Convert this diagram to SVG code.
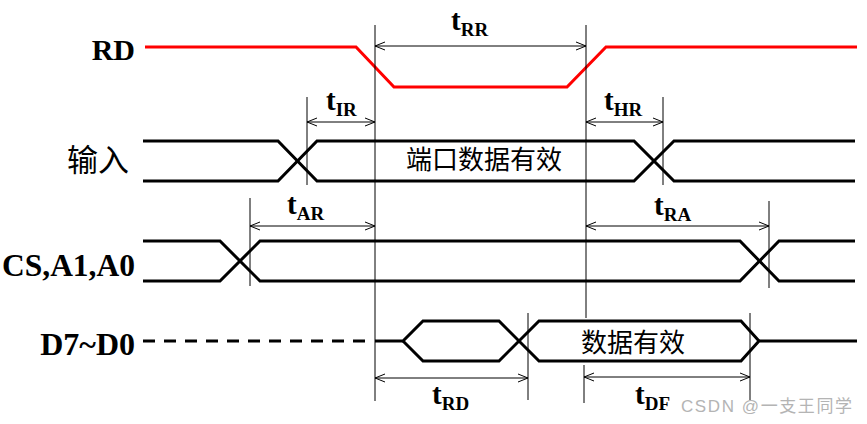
<svg xmlns="http://www.w3.org/2000/svg" width="867" height="424" viewBox="0 0 867 424">
  <style>
    .sig { fill: none; stroke: #000; stroke-width: 3; stroke-linejoin: miter; }
    .rd { fill: none; stroke: #ff0000; stroke-width: 3; }
    .dash { fill: none; stroke: #000; stroke-width: 3; stroke-dasharray: 12 9; }
    .guide { fill: none; stroke: #000; stroke-width: 1; }
    .dim { fill: none; stroke: #000; stroke-width: 1; marker-start: url(#arr); marker-end: url(#arr); }
    .lbl { font-family: "Liberation Serif", "Times New Roman", serif; font-weight: bold; font-size: 30px; fill: #000; }
    .cjk { font-family: "Liberation Serif", "Noto Sans CJK SC", serif; font-size: 26px; fill: #000; }
    .t { font-family: "Liberation Serif", "Times New Roman", serif; font-weight: bold; font-size: 29px; fill: #000; }
    .sub { font-size: 19px; }
    .wm { font-family: "Liberation Sans", "Noto Sans CJK SC", sans-serif; font-size: 17px; fill: #b4b4b4; }
  </style>
  <defs>
    <!-- open V head, tip at the path end -->
    <marker id="arr" viewBox="-11 -5 12 10" refX="0" refY="0" markerWidth="12" markerHeight="10" markerUnits="userSpaceOnUse" orient="auto-start-reverse">
      <path d="M-10,-4 L0,0 L-10,4" fill="none" stroke="#000" stroke-width="1"/>
    </marker>
  </defs>

  <!-- signal names -->
  <g id="label-rd"><text class="lbl" x="135" y="60" text-anchor="end">RD</text></g>
  <g id="label-in"><text class="cjk" x="129" y="171" text-anchor="end" style="font-size:31px">输入</text></g>
  <g id="label-cs"><text class="lbl" x="135" y="276" text-anchor="end" style="font-size:31.5px">CS,A1,A0</text></g>
  <g id="label-d"><text class="lbl" x="135" y="355" text-anchor="end" style="font-size:32px">D7~D0</text></g>

  <!-- RD waveform -->
  <g id="wave-rd">
    <path class="rd" d="M145,47 H356 L394,87 H567 L606,47 H857"/>
  </g>

  <!-- input port waveform -->
  <g id="wave-in">
    <path class="sig" d="M143,141 H278 L317,181 H634 L674,141 H855"/>
    <path class="sig" d="M143,181 H278 L317,141 H634 L674,181 H855"/>
    <text class="cjk" x="484" y="169" text-anchor="middle">端口数据有效</text>
  </g>

  <!-- address / chip select waveform -->
  <g id="wave-cs">
    <path class="sig" d="M143,241 H220 L260,281 H740 L779,241 H855"/>
    <path class="sig" d="M143,281 H220 L260,241 H740 L779,281 H855"/>
  </g>

  <!-- data bus waveform -->
  <g id="wave-d">
    <path class="dash" d="M143,341 H366"/>
    <path class="sig" d="M375,341 H403 L423,321 H499 L539,361 H741 L759,341 H857"/>
    <path class="sig" d="M403,341 L423,361 H499 L539,321 H741 L759,341"/>
    <text class="cjk" x="633" y="352" text-anchor="middle">数据有效</text>
  </g>

  <!-- timing guides and dimension arrows -->
  <g id="connectors">
    <path class="guide" d="M375,25 V401 M586,25 V318 M307,97 V185 M663,97 V185 M250,198 V286 M769,201 V288 M528,313 V400 M584,365 V403 M750,313 V400"/>
    <path class="dim" d="M375,46 H586"/>
    <path class="dim" d="M307,122 H375"/>
    <path class="dim" d="M586,122 H663"/>
    <path class="dim" d="M250,226 H375"/>
    <path class="dim" d="M586,226 H769"/>
    <path class="dim" d="M375,378 H528"/>
    <path class="dim" d="M584,377 H750"/>
  </g>

  <!-- timing parameter names -->
  <g id="t-rr"><text class="t" x="451" y="30">t<tspan class="sub" dy="6">RR</tspan></text></g>
  <g id="t-ir"><text class="t" x="326" y="110">t<tspan class="sub" dy="6">IR</tspan></text></g>
  <g id="t-hr"><text class="t" x="604" y="110">t<tspan class="sub" dy="6">HR</tspan></text></g>
  <g id="t-ar"><text class="t" x="287" y="214">t<tspan class="sub" dy="6">AR</tspan></text></g>
  <g id="t-ra"><text class="t" x="654" y="215">t<tspan class="sub" dy="6">RA</tspan></text></g>
  <g id="t-rd"><text class="t" x="432" y="404">t<tspan class="sub" dy="6">RD</tspan></text></g>
  <g id="t-df"><text class="t" x="635" y="404">t<tspan class="sub" dy="6">DF</tspan></text></g>

  <text class="wm" x="681" y="412" textLength="171" lengthAdjust="spacing">CSDN @一支王同学</text>
</svg>
